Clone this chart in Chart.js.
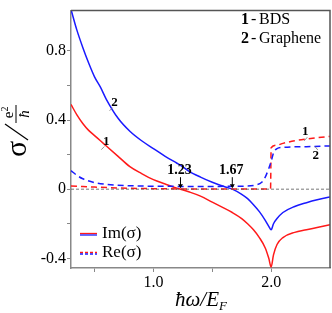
<!DOCTYPE html>
<html>
<head>
<meta charset="utf-8">
<script src="https://cdn.jsdelivr.net/npm/chart.js@4.4.1/dist/chart.umd.min.js"></script>
<style>
html,body{margin:0;padding:0;background:#fff}
#wrap{width:332px;height:313px}
</style>
</head>
<body>
<div id="wrap"><canvas id="c"></canvas></div>
<script>
// frequency grid (ħω/E_F) for the imaginary parts
const imX = [0.3,0.35,0.4,0.45,0.5,0.55,0.6,0.7,0.8,0.9,1.0,1.1,1.2,1.23,1.3,1.4,1.5,1.6,1.67,1.75,1.8,1.85,1.9,1.95,1.98,2.0,2.02,2.05,2.1,2.2,2.3,2.4,2.5];
const imBDS = [0.49,0.43,0.38,0.34,0.31,0.28,0.25,0.19,0.13,0.09,0.055,0.03,0.006,0.0,-0.015,-0.04,-0.075,-0.11,-0.135,-0.17,-0.2,-0.235,-0.28,-0.34,-0.4,-0.45,-0.38,-0.32,-0.28,-0.25,-0.235,-0.22,-0.205];
const imGraphene = [1.04,0.92,0.82,0.73,0.65,0.59,0.52,0.41,0.335,0.28,0.235,0.19,0.15,0.138,0.105,0.07,0.04,0.015,0.0,-0.03,-0.055,-0.09,-0.13,-0.18,-0.215,-0.235,-0.2,-0.17,-0.135,-0.1,-0.078,-0.06,-0.045];

// real parts
const reBdsX = [0.3,0.4,0.5,0.7,1.0,1.5,1.995,2.0,2.05,2.1,2.2,2.3,2.4,2.5];
const reBDS = [0.018,0.015,0.012,0.007,0.003,0.001,0.001,0.24,0.255,0.265,0.28,0.29,0.298,0.305];
const reGrX = [0.3,0.35,0.4,0.5,0.6,0.8,1.0,1.4,1.8,1.87,1.92,1.95,1.98,2.0,2.02,2.05,2.1,2.3,2.5];
const reGraphene = [0.107,0.08,0.06,0.038,0.028,0.02,0.017,0.016,0.018,0.024,0.04,0.07,0.12,0.16,0.21,0.235,0.242,0.246,0.25];

const xTicks = [0.5,1.0,1.5,2.0];
const xTickLabels = ['','1.0','','2.0'];
const yTicks = [-0.4,-0.2,0,0.2,0.4,0.6,0.8];
const yTickLabels = ['-0.4','','0','','0.4','','0.8'];
const roots = [1.23,1.67];

const RED = '#ff1a1a', BLUE = '#1a1aff';
const serif = '"Liberation Serif","DejaVu Serif",serif';

const pts = (xs,ys) => xs.map((x,i)=>({x:x,y:ys[i]}));

function line(ds){
    return Object.assign({pointRadius:0,borderWidth:1.5,fill:false,cubicInterpolationMode:'monotone',showLine:true}, ds);
}

const notes = {
    id:'notes',
    afterDraw(chart){
        const ctx = chart.ctx, a = chart.chartArea;
        const sx = chart.scales.x, sy = chart.scales.y;
        const P = (x,y) => [sx.getPixelForValue(x), sy.getPixelForValue(y)];
        ctx.save();

        // top and right frame
        ctx.strokeStyle='#555'; ctx.lineWidth=1.5;
        ctx.beginPath(); ctx.moveTo(a.left,a.top); ctx.lineTo(a.right,a.top); ctx.lineTo(a.right,a.bottom); ctx.stroke();

        // curve tags with little leaders
        ctx.fillStyle='#000'; ctx.font='bold 13px '+serif; ctx.textAlign='center'; ctx.textBaseline='middle';
        const tags = [['2',0.67,0.5,-3,7],['1',0.6,0.275,-3,7],['1',2.29,0.333,1,8],['2',2.38,0.194,1,-8]];
        tags.forEach(t=>{
            const [x,y] = P(t[1],t[2]);
            ctx.fillText(t[0],x,y);
            ctx.strokeStyle='#777'; ctx.lineWidth=0.8;
            ctx.beginPath(); ctx.moveTo(x+t[3]+1, y+t[4]*0.7); ctx.lineTo(x+t[3]-2, y+t[4]*1.15); ctx.stroke();
        });

        // root markers
        ctx.font='bold 14px '+serif;
        roots.forEach(r=>{
            const [x,y0] = P(r,0);
            ctx.fillStyle='#000';
            ctx.fillText(r.toFixed(2), x-1, y0-19);
            ctx.strokeStyle='#000'; ctx.lineWidth=1;
            ctx.beginPath(); ctx.moveTo(x,y0-12); ctx.lineTo(x,y0-3); ctx.stroke();
            ctx.beginPath(); ctx.moveTo(x-2.5,y0-5); ctx.lineTo(x,y0-1); ctx.lineTo(x+2.5,y0-5); ctx.closePath(); ctx.fill();
        });

        // model key
        ctx.textAlign='left'; ctx.textBaseline='alphabetic';
        [['1','BDS',24],['2','Graphene',43]].forEach(k=>{
            ctx.font='bold 16px '+serif; ctx.fillText(k[0], 241, k[2]);
            ctx.font='16px '+serif; ctx.fillText('-', 251, k[2]);
            ctx.fillText(k[1], 259, k[2]);
        });

        // legend
        ctx.lineWidth=1.3;
        ctx.strokeStyle=RED; ctx.beginPath(); ctx.moveTo(80,233.5); ctx.lineTo(97,233.5); ctx.stroke();
        ctx.strokeStyle=BLUE; ctx.beginPath(); ctx.moveTo(80,235); ctx.lineTo(97,235); ctx.stroke();
        ctx.setLineDash([3,2]);
        ctx.strokeStyle=RED; ctx.beginPath(); ctx.moveTo(80,252.5); ctx.lineTo(97,252.5); ctx.stroke();
        ctx.strokeStyle=BLUE; ctx.beginPath(); ctx.moveTo(80,254); ctx.lineTo(97,254); ctx.stroke();
        ctx.setLineDash([]);
        ctx.fillStyle='#000'; ctx.font='17px '+serif; ctx.textBaseline='middle';
        ctx.fillText('Im(σ)',102,234);
        ctx.fillText('Re(σ)',102,253);

        // x title: ħω/E_F
        ctx.textBaseline='alphabetic';
        ctx.font='italic 21px '+serif;
        const main = 'ħω/E';
        const w1 = ctx.measureText(main).width;
        ctx.font='italic 13px '+serif;
        const w2 = ctx.measureText('F').width;
        const x0 = 201 - (w1+w2)/2;
        ctx.font='italic 21px '+serif; ctx.fillText(main, x0, 306);
        ctx.font='italic 13px '+serif; ctx.fillText('F', x0+w1, 310);

        // y title: σ / (e²/ħ), rotated
        ctx.translate(18,130); ctx.rotate(-Math.PI/2);
        ctx.font='30px '+serif; ctx.textAlign='left';
        ctx.fillText('σ', -27, 8);
        ctx.lineWidth=1.3; ctx.strokeStyle='#000';
        ctx.beginPath(); ctx.moveTo(-10,10); ctx.lineTo(6,-13); ctx.stroke();
        ctx.textAlign='center';
        ctx.font='15px '+serif; ctx.fillText('e', 15, -5);
        ctx.font='10px '+serif; ctx.fillText('2', 21, -10);
        ctx.lineWidth=1; ctx.beginPath(); ctx.moveTo(7,-2); ctx.lineTo(25,-2); ctx.stroke();
        ctx.font='italic 15px '+serif; ctx.fillText('ħ', 16, 11);
        ctx.restore();
    }
};

new Chart(document.getElementById('c'), {
    type:'scatter',
    data:{ datasets:[
        line({data:[{x:0.3,y:0},{x:2.5,y:0}], borderColor:'#555', borderWidth:0.8, borderDash:[3,2], cubicInterpolationMode:'default'}),
        line({data:pts(reGrX,reGraphene), borderColor:BLUE, borderDash:[6,4]}),
        line({data:pts(reBdsX,reBDS), borderColor:RED, borderDash:[6,4]}),
        line({data:pts(imX,imGraphene), borderColor:BLUE}),
        line({data:pts(imX,imBDS), borderColor:RED})
    ]},
    options:{
        responsive:true, maintainAspectRatio:false, animation:false,
        layout:{padding:{left:0,top:1,right:2,bottom:0}},
        plugins:{legend:{display:false}, tooltip:{enabled:false}},
        scales:{
            x:{type:'linear', min:0.3, max:2.5,
                afterBuildTicks:s=>{ s.ticks = xTicks.map(v=>({value:v})); },
                afterFit:s=>{ s.height = 45; },
                ticks:{callback:(v,i)=>xTickLabels[i], color:'#000', font:{family:serif,size:16}, padding:1, maxRotation:0, autoSkip:false},
                grid:{drawOnChartArea:false, tickLength:4, color:'#888'},
                border:{color:'#888', width:1.5}},
            y:{type:'linear', min:-0.456, max:1.033,
                afterBuildTicks:s=>{ s.ticks = yTicks.map(v=>({value:v})); },
                afterFit:s=>{ s.width = 71; },
                ticks:{callback:(v,i)=>yTickLabels[i], color:'#000', font:{family:serif,size:16}, padding:1, autoSkip:false},
                grid:{drawOnChartArea:false, tickLength:4, color:'#888'},
                border:{color:'#888', width:1.5}}
        }
    },
    plugins:[notes]
});
</script>
</body>
</html>
